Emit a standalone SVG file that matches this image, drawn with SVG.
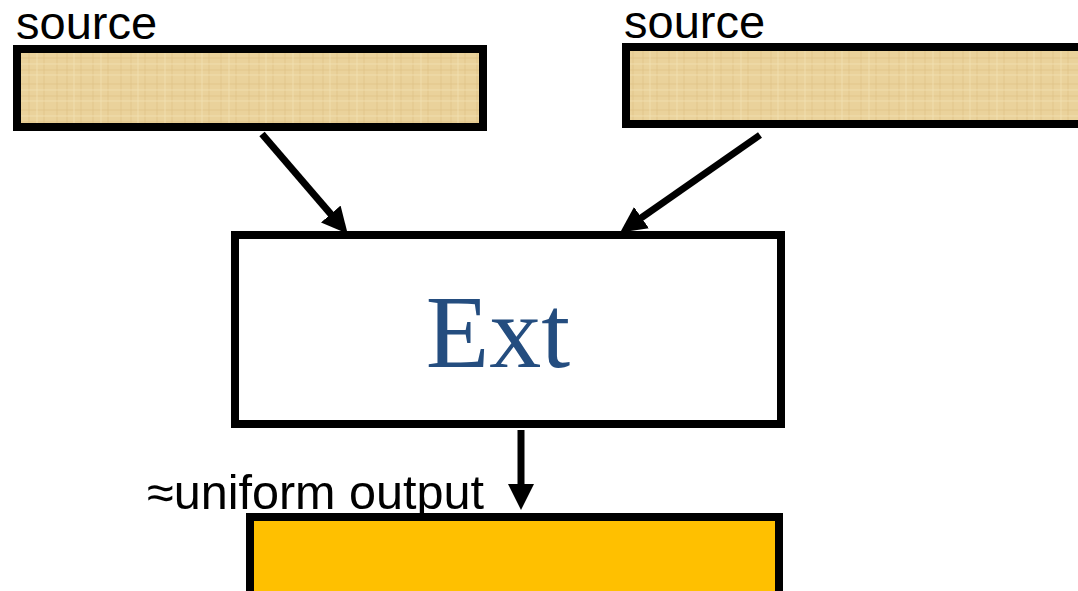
<svg xmlns="http://www.w3.org/2000/svg" width="1078" height="591" viewBox="0 0 1078 591">
  <style>
    .box { stroke: #000; stroke-width: 8; }
    .label { font-family: "Liberation Sans", Arial, sans-serif; fill: #000; }
    .conn { stroke: #000; stroke-width: 7; fill: none; marker-end: url(#head); }
  </style>
  <defs>
    <!-- woven papyrus-like texture for the source strips -->
    <pattern id="papyrus" patternUnits="userSpaceOnUse" width="64" height="26">
      <rect width="64" height="26" fill="#EAD29B"/>
      <g stroke="#D8BC80" stroke-opacity="0.55" stroke-width="1">
        <line x1="3" y1="0" x2="3" y2="26"/>
        <line x1="17" y1="0" x2="17" y2="26"/>
        <line x1="29" y1="0" x2="29" y2="26"/>
        <line x1="44" y1="0" x2="44" y2="26"/>
        <line x1="57" y1="0" x2="57" y2="26"/>
        <line x1="0" y1="6" x2="64" y2="6"/>
        <line x1="0" y1="18" x2="64" y2="18"/>
      </g>
      <g stroke="#F4E3B6" stroke-opacity="0.7" stroke-width="1">
        <line x1="10" y1="0" x2="10" y2="26"/>
        <line x1="37" y1="0" x2="37" y2="26"/>
        <line x1="0" y1="12" x2="64" y2="12"/>
        <line x1="0" y1="23" x2="64" y2="23"/>
      </g>
    </pattern>
    <marker id="head" markerUnits="userSpaceOnUse" markerWidth="26" markerHeight="26"
            viewBox="0 0 24 24" refX="12" refY="12" orient="auto">
      <path d="M0,0 L24,12 L0,24 z" fill="#000"/>
    </marker>
  </defs>

  <g id="source-left">
    <rect class="box" x="17" y="49" width="466" height="78" fill="url(#papyrus)"/>
    <text class="label" x="16" y="39" font-size="47">source</text>
  </g>

  <g id="source-right">
    <rect class="box" x="626" y="47" width="470" height="77" fill="url(#papyrus)"/>
    <text class="label" x="624" y="38" font-size="47">source</text>
  </g>

  <g id="ext">
    <rect class="box" x="235" y="235" width="546" height="189" fill="#FFFFFF"/>
    <text x="498" y="367" font-family="'Liberation Serif', 'DejaVu Serif', serif" font-size="104"
          fill="#244D7F" text-anchor="middle">Ext</text>
  </g>

  <g id="output">
    <rect class="box" x="250" y="517" width="529" height="90" fill="#FFC000"/>
    <text class="label" x="147" y="509" font-size="48" textLength="337" lengthAdjust="spacingAndGlyphs">≈uniform output</text>
  </g>

  <g id="connectors">
    <line class="conn" x1="262" y1="134" x2="339.2" y2="223.9"/>
    <line class="conn" x1="760" y1="135" x2="630.8" y2="225.1"/>
    <line class="conn" x1="521" y1="430" x2="521" y2="497"/>
  </g>
</svg>
